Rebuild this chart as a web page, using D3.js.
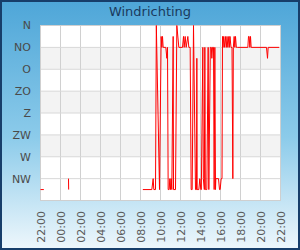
<!DOCTYPE html>
<html>
<head>
<meta charset="utf-8">
<script src="https://cdn.jsdelivr.net/npm/d3@7"></script>
<style>
  html, body { margin: 0; padding: 0; background: #fff; }
  svg { display: block; font-family: "DejaVu Sans", sans-serif; }
</style>
</head>
<body>
<svg id="chart" width="300" height="250"></svg>
<script>
// Wind direction readings (time, degrees), null = gap
const times = ["22:00", "22:20", "22:30", "00:48", "00:49", "01:00",
    "08:14", "09:08", "09:16", "09:20", "09:30", "09:35", "09:54", "10:04", "10:08", "10:12",
    "10:16", "10:32", "10:38", "10:42", "10:46", "10:52", "10:56", "11:00", "11:04", "11:08",
    "11:16", "11:18", "11:30", "11:38", "11:50", "12:12", "12:18", "12:22", "12:28", "12:34",
    "12:44", "12:50", "12:58", "13:04", "13:10", "13:18", "13:30", "13:36", "13:38", "13:40",
    "13:50", "13:56", "14:02", "14:05", "14:14", "14:17", "14:23", "14:26", "14:29", "14:38",
    "14:46", "14:50", "14:59", "15:05", "15:08", "15:12", "15:18", "15:22", "15:26", "15:30",
    "15:32", "15:48", "15:54", "15:58", "16:04", "16:09", "16:12", "16:15", "16:19", "16:25",
    "16:29", "16:35", "16:39", "16:44", "16:50", "16:53", "16:57", "17:03", "17:09", "17:14",
    "17:17", "17:22", "17:26", "17:30", "17:35", "17:41", "18:44", "18:48", "18:52", "18:56",
    "19:00", "19:04", "20:36", "20:42", "20:46", "21:52"];
const directions = [337.5, 337.5, null, 315, 337.5, null,
    337.5, 337.5, 315, 337.5, 337.5, 0, 337.5, 22.5, 45, 22.5,
    45, 45, 67.5, 45, 337.5, 337.5, 315, 337.5, 315, 337.5,
    22.5, 337.5, 337.5, 0, 45, 45, 22.5, 45, 22.5, 45,
    22.5, 45, 45, 337.5, 337.5, 0, 337.5, 337.5, 67.5, 337.5,
    337.5, 315, 337.5, 337.5, 45, 315, 337.5, 45, 337.5, 337.5,
    45, 337.5, 45, 45, 67.5, 45, 45, 337.5, 45, 337.5,
    315, 315, 337.5, 337.5, 315, 315, 22.5, 45, 22.5, 45,
    22.5, 45, 22.5, 45, 22.5, 45, 22.5, 45, 45, 315,
    45, 22.5, 45, 22.5, 45, 45, 45, 22.5, 22.5, 45,
    22.5, 45, 45, 67.5, 45, 45];
const dirLabels = ["N", "NO", "O", "ZO", "Z", "ZW", "W", "NW"];
const dirTicks = [0, 45, 90, 135, 180, 225, 270, 315];

// times from 22:00 belong to the first day, the rest to the next day
function toDate(s) {
    const [h, m] = s.split(":").map(Number);
    return new Date(2024, 0, h >= 22 ? 1 : 2, h, m);
}

const data = times.map((t, i) => ({ date: toDate(t), dir: directions[i] }));

const svg = d3.select("#chart");
const W = 300, H = 250;
const plot = { left: 40.5, right: 280.5, top: 25.5, bottom: 200.5 };

// background
const defs = svg.append("defs");
const grad = defs.append("linearGradient")
    .attr("id", "bg").attr("x1", 0).attr("y1", 0).attr("x2", 0).attr("y2", 1);
grad.append("stop").attr("offset", "0%").attr("stop-color", "#4ea6d8");
grad.append("stop").attr("offset", "55%").attr("stop-color", "#8ccbea");
grad.append("stop").attr("offset", "100%").attr("stop-color", "#eef7fc");

svg.append("rect")
    .attr("x", 1).attr("y", 1).attr("width", W - 2).attr("height", H - 2)
    .attr("fill", "url(#bg)")
    .attr("stroke", "#173e6a").attr("stroke-width", 2);

svg.append("text")
    .attr("x", W / 2).attr("y", 16)
    .attr("text-anchor", "middle")
    .attr("font-size", 13)
    .attr("fill", "#1a3a5e")
    .text("Windrichting");

const x = d3.scaleTime()
    .domain([new Date(2024, 0, 1, 22, 0), new Date(2024, 0, 2, 22, 0)])
    .range([plot.left, plot.right]);

const y = d3.scaleLinear()
    .domain([0, 360])
    .range([plot.top, plot.bottom]);

// plot area
svg.append("rect")
    .attr("x", plot.left).attr("y", plot.top)
    .attr("width", plot.right - plot.left).attr("height", plot.bottom - plot.top)
    .attr("fill", "#fff");

// alternating bands
svg.append("g").selectAll("rect")
    .data([45, 135, 225])
    .enter().append("rect")
    .attr("x", plot.left)
    .attr("y", d => y(d))
    .attr("width", plot.right - plot.left)
    .attr("height", d => y(d + 45) - y(d))
    .attr("fill", "#f3f3f3");

// grid
const xTicks = x.ticks(d3.timeHour.every(2));
svg.append("g").selectAll("line")
    .data(xTicks)
    .enter().append("line")
    .attr("x1", d => x(d)).attr("x2", d => x(d))
    .attr("y1", plot.top).attr("y2", plot.bottom)
    .attr("stroke", "#d0d0d0");

svg.append("g").selectAll("line")
    .data(dirTicks.concat([360]))
    .enter().append("line")
    .attr("x1", plot.left).attr("x2", plot.right)
    .attr("y1", d => y(d)).attr("y2", d => y(d))
    .attr("stroke", "#d8d8d8");

svg.append("rect")
    .attr("x", plot.left).attr("y", plot.top)
    .attr("width", plot.right - plot.left).attr("height", plot.bottom - plot.top)
    .attr("fill", "none").attr("stroke", "#cfcfcf");

// y labels
svg.append("g").selectAll("text")
    .data(dirTicks)
    .enter().append("text")
    .attr("x", 31)
    .attr("y", d => y(d))
    .attr("dy", "0.36em")
    .attr("text-anchor", "end")
    .attr("font-size", 11)
    .attr("fill", "#4a4a4a")
    .text((d, i) => dirLabels[i]);

// x labels
const fmt = d3.timeFormat("%H:%M");
svg.append("g").selectAll("text")
    .data(xTicks)
    .enter().append("text")
    .attr("transform", d => `translate(${x(d) + 4},211) rotate(-90)`)
    .attr("text-anchor", "end")
    .attr("font-size", 11)
    .attr("fill", "#5a5a5a")
    .text(d => fmt(d));

// line
const line = d3.line()
    .defined(d => d.dir !== null)
    .x(d => x(d.date))
    .y(d => y(d.dir));

svg.append("path")
    .datum(data)
    .attr("d", line)
    .attr("fill", "none")
    .attr("stroke", "#ff0000")
    .attr("stroke-width", 1);
</script>
</body>
</html>
